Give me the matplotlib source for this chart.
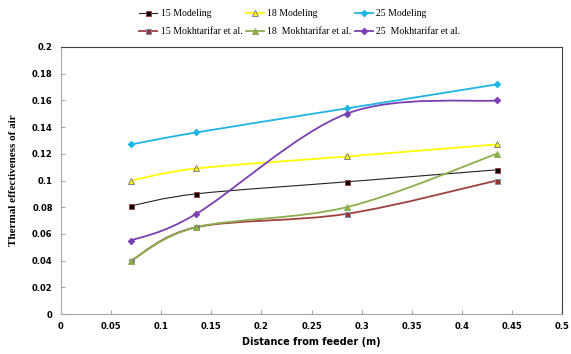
import numpy as np
import matplotlib
matplotlib.use("Agg")
import matplotlib.pyplot as plt
from matplotlib.path import Path
from matplotlib.patches import PathPatch
from matplotlib.lines import Line2D

# distance from feeder (m)
x = [0.07, 0.135, 0.285, 0.435]

mod15 = [0.081, 0.090, 0.099, 0.108]
mod18 = [0.100, 0.109, 0.118, 0.127]
mod25 = [0.127, 0.136, 0.154, 0.172]
mok15 = [0.040, 0.065, 0.075, 0.100]
mok18 = [0.040, 0.065, 0.080, 0.120]
mok25 = [0.055, 0.075, 0.150, 0.160]

labels = ["15 Modeling", "18 Modeling", "25 Modeling",
          "15 Mokhtarifar et al.", "18  Mokhtarifar et al.", "25  Mokhtarifar et al."]


def smooth_path(xs, ys):
    # excel style smoothed line as cubic bezier segments
    p = np.column_stack([xs, ys])
    n = len(p)
    verts = [p[0]]
    codes = [Path.MOVETO]
    for i in range(n - 1):
        p0 = p[i - 1] if i > 0 else p[i]
        p3 = p[i + 2] if i + 2 < n else p[i + 1]
        c1 = p[i] + (p[i + 1] - p0) / 6
        c2 = p[i + 1] - (p3 - p[i]) / 6
        verts += [c1, c2, p[i + 1]]
        codes += [Path.CURVE4] * 3
    return Path(verts, codes)


styles = [
    (mod15, "#222222", 0.8, "s", "#000000", "#a04040", 3.6),
    (mod18, "#ffff00", 1.3, "^", "#ffff00", "#808080", 4.2),
    (mod25, "#1fb4e6", 1.3, "D", "#1fb4e6", "#1fb4e6", 3.3),
    (mok15, "#a0403f", 1.3, "s", "#953735", "#7f8fb0", 3.6),
    (mok18, "#8cae4e", 1.3, "^", "#8cae4e", "#8cae4e", 4.2),
    (mok25, "#7a3fb0", 1.3, "D", "#7a3fb0", "#7a3fb0", 3.3),
]

fig = plt.figure(figsize=(5.71, 3.54), dpi=100)
ax = fig.add_axes([61 / 571, 40 / 354, 501 / 571, 267 / 354])

handles = []
for (ys, col, lw, mk, fc, ec, ms), lab in zip(styles, labels):
    ax.add_patch(PathPatch(smooth_path(x, ys), facecolor="none", edgecolor=col, lw=lw, zorder=2))
    ax.plot(x, ys, linestyle="none", marker=mk, ms=ms, mfc=fc, mec=ec, mew=0.7, zorder=3)
    handles.append(Line2D([], [], color=col, lw=lw, marker=mk, ms=ms, mfc=fc, mec=ec, mew=0.7, label=lab))

ax.set_xlim(0, 0.5)
ax.set_ylim(0, 0.2)
ax.set_xticks(np.arange(0, 0.51, 0.05))
ax.set_xticklabels(["0", "0.05", "0.1", "0.15", "0.2", "0.25", "0.3", "0.35", "0.4", "0.45", "0.5"])
ax.set_yticks(np.arange(0, 0.201, 0.02))
ax.set_yticklabels(["0", "0.02", "0.04", "0.06", "0.08", "0.1", "0.12", "0.14", "0.16", "0.18", "0.2"])

for s in ["left", "bottom"]:
    ax.spines[s].set_color("#a6a6a6")
for s in ["top", "right"]:
    ax.spines[s].set_color("#404040")
ax.tick_params(axis="both", direction="in", length=3, color="#a6a6a6", pad=6)
for t in ax.get_xticklabels() + ax.get_yticklabels():
    t.set_fontfamily("DejaVu Sans")
    t.set_fontweight("bold")
    t.set_fontsize(6)

ax.set_xlabel("Distance from feeder (m)", fontsize=7, fontweight="bold", family="DejaVu Sans", labelpad=4)
ax.set_ylabel("Thermal effectiveness of air", fontsize=8, fontweight="bold", family="Liberation Serif", labelpad=10)

# legend fills column-wise, so reorder to get rows like the original
order = [0, 3, 1, 4, 2, 5]
fig.legend(handles=[handles[i] for i in order], loc="upper left", bbox_to_anchor=(139 / 571, 1 - 9 / 354), ncol=3,
           frameon=False, prop={"family": "Liberation Serif", "size": 7}, handlelength=1.9,
           handletextpad=0.35, columnspacing=0.3, labelspacing=0.95, borderpad=0, borderaxespad=0)

fig.savefig("out.png", dpi=100)
